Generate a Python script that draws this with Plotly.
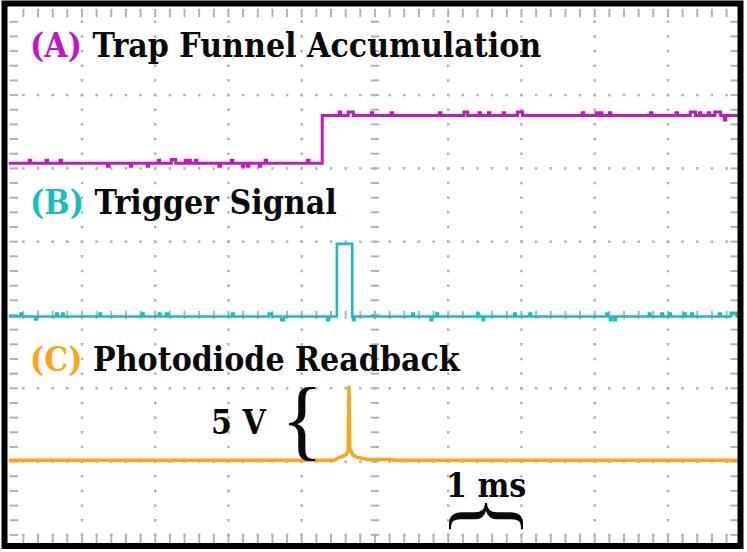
import plotly.graph_objects as go

# oscilloscope screen: 1 ms/div horizontally, vertical values in screen divisions (centre = 0)

# (A) trap funnel accumulation: step
a_t = [-5.0, -0.72, 4.98]
a_v = [2.07, 2.72, 2.72]
a_blip_t = [-4.71, -4.48, -4.29, -3.64, -3.33, -3.10, -2.95, -2.75, -2.58, -2.53, -2.44, -2.12,
            -1.95, -1.80, -1.73, -1.57, -1.49, -0.91, -0.48, -0.33, -0.04, 0.23, 0.89, 1.24,
            1.43, 1.56, 1.76, 1.98, 2.84, 3.03, 3.09, 3.21, 3.77, 4.12, 4.34, 4.44, 4.56, 4.68, 4.78]
a_blip_dv = [0.04, 0.04, 0.04, -0.04, -0.04, -0.04, 0.04, 0.05, 0.04, 0.04, 0.04, -0.04,
             0.04, -0.04, -0.04, -0.04, 0.04, 0.04, 0.05, 0.05, 0.04, 0.04, 0.04, 0.05,
             0.04, 0.04, 0.04, 0.05, 0.04, 0.04, 0.04, 0.04, 0.04, 0.04, 0.05, 0.04, 0.04, 0.05, -0.06]
a_blip_w = [0.02, 0.02, 0.02, 0.02, 0.02, 0.02, 0.02, 0.06, 0.02, 0.02, 0.02, 0.02,
            0.02, 0.02, 0.02, 0.02, 0.02, 0.02, 0.02, 0.07, 0.02, 0.02, 0.02, 0.05,
            0.02, 0.02, 0.02, 0.07, 0.02, 0.02, 0.02, 0.02, 0.02, 0.02, 0.07, 0.02, 0.02, 0.08, 0.02]

# (B) trigger signal: pulse
b_t = [-5.0, -0.52, -0.31, 4.98]
b_v = [-0.02, 0.97, -0.02, -0.02]
b_blip_t = [-4.83, -4.63, -4.34, -4.26, -3.75, -3.17, -2.94, -2.84, -1.94, -1.43, -1.26, -0.64,
            -0.29, 0.52, 0.77, 0.85, 1.41, 1.48, 1.91, 2.12, 3.17, 3.22, 3.28, 3.75, 3.92,
            4.03, 4.23, 4.33, 4.71, 4.90]
b_blip_dv = [0.04, -0.04, 0.04, 0.04, 0.04, 0.04, 0.04, 0.04, 0.04, 0.04, -0.05, -0.05,
             -0.05, 0.04, -0.05, 0.04, 0.04, -0.05, 0.04, 0.04, 0.04, -0.05, -0.05, 0.04, 0.04,
             0.04, 0.04, 0.04, 0.04, 0.05]
b_blip_w = [0.02, 0.02, 0.02, 0.02, 0.02, 0.02, 0.02, 0.02, 0.02, 0.04, 0.04, 0.02,
            0.02, 0.02, 0.02, 0.02, 0.02, 0.02, 0.02, 0.02, 0.02, 0.02, 0.02, 0.02, 0.02,
            0.02, 0.02, 0.02, 0.02, 0.08]

# (C) photodiode readback: spike
c_t = [-5.0, -0.56, -0.50, -0.44, -0.39, -0.365, -0.355, -0.345, -0.33, -0.30, -0.25, -0.10, 0.23, 0.25, 4.98]
c_v = [-1.98, -1.98, -1.95, -1.93, -1.90, -1.85, -0.97, -1.82, -1.85, -1.91, -1.94, -1.97, -1.97, -1.98, -1.98]

MAG = '#C416C4'
CYA = '#19BDBD'
ORA = '#FFA31A'
GRID = '#B2B2B2'


def step_with_blips(t, v, bt, bdv, bw):
    # base is a step function (hold value until next point), blips sit on top of it
    def base(x):
        val = v[0]
        for ti, vi in zip(t, v):
            if ti <= x:
                val = vi
        return val
    pts = list(zip(t, v))
    for x, dv, w in zip(bt, bdv, bw):
        pts.append((x - w / 2, base(x) + dv))
        pts.append((x + w / 2, base(x)))
    pts.sort()
    return [p[0] for p in pts], [p[1] for p in pts]


fig = go.Figure()

# graticule
dot_x, dot_y = [], []
for k in range(-4, 5):
    if k == 0:
        continue
    for j in range(-15, 21):
        dot_x.append(k)
        dot_y.append(j * 0.2)
for r in [-3, -2, -1, 1, 2, 3]:
    for j in range(-24, 25):
        dot_x.append(j * 0.2)
        dot_y.append(r)
fig.add_trace(go.Scatter(x=dot_x, y=dot_y, mode='markers', hoverinfo='skip',
                         marker=dict(symbol='square', size=2.5, color=GRID)))

ew_x, ew_y, ns_x, ns_y = [], [], [], []
for j in range(-15, 21):
    for xx in [-4.93, 0, 4.91]:
        ew_x.append(xx)
        ew_y.append(j * 0.2)
for j in range(-24, 25):
    for yy in [4.12, 0, -3.07]:
        ns_x.append(j * 0.2)
        ns_y.append(yy)
fig.add_trace(go.Scatter(x=ew_x, y=ew_y, mode='markers', hoverinfo='skip',
                         marker=dict(symbol='line-ew', size=6, line=dict(width=2, color=GRID))))
fig.add_trace(go.Scatter(x=ns_x, y=ns_y, mode='markers', hoverinfo='skip',
                         marker=dict(symbol='line-ns', size=6, line=dict(width=2, color=GRID))))

# traces
ax, ay = step_with_blips(a_t, a_v, a_blip_t, a_blip_dv, a_blip_w)
fig.add_trace(go.Scatter(x=ax, y=ay, mode='lines', line=dict(color=MAG, width=3, shape='hv')))
bx, by = step_with_blips(b_t, b_v, b_blip_t, b_blip_dv, b_blip_w)
fig.add_trace(go.Scatter(x=bx, y=by, mode='lines', line=dict(color=CYA, width=2.6, shape='hv')))
fig.add_trace(go.Scatter(x=c_t, y=c_v, mode='lines', line=dict(color=ORA, width=3.5)))

TXT = dict(family='DejaVu Serif Condensed, DejaVu Serif, serif', size=33.5, color='#0a0a0a')
labels = [
    (3.68, MAG, '(A)', 'Trap Funnel Accumulation'),
    (1.53, CYA, '(B)', 'Trigger Signal'),
    (-0.61, ORA, '(C)', 'Photodiode Readback'),
]
for y, col, tag, name in labels:
    fig.add_annotation(x=-4.74, y=y, xanchor='left', yanchor='middle', showarrow=False,
                       text=f'<b><span style="color:{col}">{tag}</span> {name}</b>', font=TXT)

fig.add_annotation(x=-1.86, y=-1.47, showarrow=False, text='<b>5 V</b>', font=TXT)
fig.add_annotation(x=1.52, y=-2.32, showarrow=False, text='<b>1 ms</b>', font=TXT)

BRACE = dict(family='Liberation Serif, serif', size=88, color='#0a0a0a')
fig.add_annotation(x=-0.99, y=-1.43, showarrow=False, text='{', font=BRACE)
fig.add_annotation(x=1.57, y=-2.74, showarrow=False, text='{', font=BRACE, textangle=90)

# screen frame
fig.add_shape(type='rect', xref='paper', yref='paper',
              x0=4.5 / 747, x1=740.5 / 747, y0=1 - 546 / 552, y1=1 - 3.5 / 552,
              line=dict(color='black', width=6))

fig.update_layout(
    width=747, height=552,
    margin=dict(l=0, r=0, t=0, b=0),
    paper_bgcolor='white', plot_bgcolor='white',
    showlegend=False,
    xaxis=dict(range=[-5.119, 5.079], visible=False, fixedrange=True),
    yaxis=dict(range=[-3.233, 4.297], visible=False, fixedrange=True),
)

fig.write_html("out.html", config={'displayModeBar': False},
               post_script="document.body.style.margin='0px';document.body.style.overflow='hidden';")
